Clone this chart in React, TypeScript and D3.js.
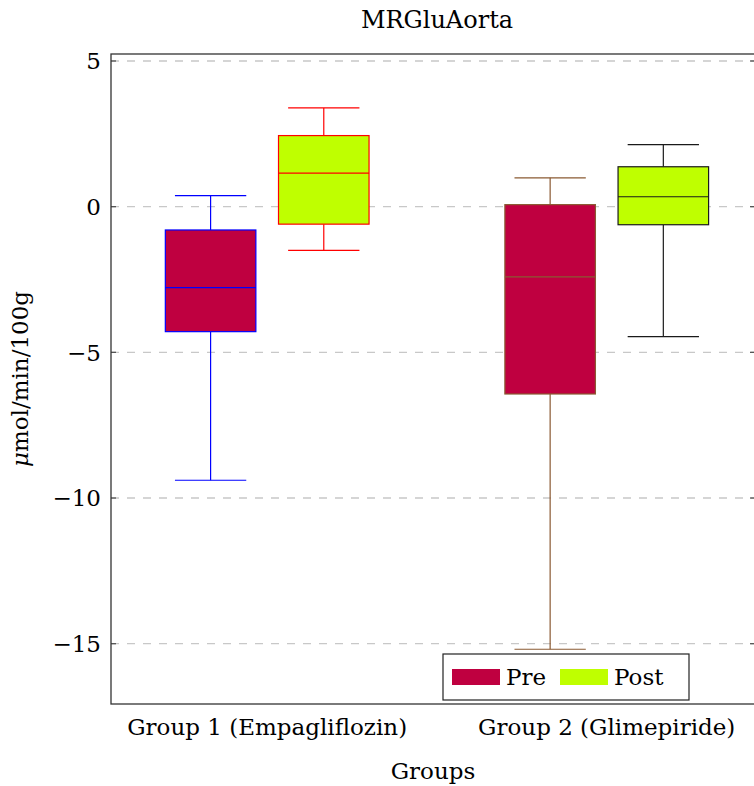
import React from "react";
import * as d3 from "d3";

// box plot summary per box: G1 Pre, G1 Post, G2 Pre, G2 Post
const groups = ["Group 1 (Empagliflozin)", "Group 2 (Glimepiride)"];
const groupPos = [1.5, 4.5];
const series = ["Pre", "Post"];
const boxPos = [1, 2, 4, 5];
const lowerWhisker = [-9.39, -1.5, -15.19, -4.46];
const lowerQuartile = [-4.29, -0.6, -6.43, -0.62];
const median = [-2.78, 1.15, -2.41, 0.34];
const upperQuartile = [-0.8, 2.44, 0.07, 1.37];
const upperWhisker = [0.38, 3.39, 0.99, 2.13];
const yTicks = [5, 0, -5, -10, -15];

const fills = ["#bf0040", "#bfff00"];
const edges = ["#0000ff", "#ff0000", "#8a5a32", "#1a1a1a"];

const W = 754, H = 786;
const margin = { top: 54, right: -1, bottom: 82, left: 111 };
const font = "'DejaVu Serif', serif";
const fs = 23;

const App = () => {
  const x = d3.scaleLinear().domain([0.12, 5.81]).range([margin.left, W - margin.right]);
  const y = d3.scaleLinear().domain([-17.07, 5.24]).range([H - margin.bottom, margin.top]);
  const unit = x(1) - x(0);
  const boxW = 0.8 * unit, capW = 0.63 * unit;
  const fmt = (v: number) => (v < 0 ? "\u2212" + Math.abs(v) : String(v));
  const x0 = margin.left, x1 = W - margin.right, y0 = margin.top, y1 = H - margin.bottom;

  return (
    <svg width={W} height={H} style={{ position: "absolute", left: 0, top: 0, background: "#fff" }}>
      {/* grid */}
      {yTicks.map(t => (
        <line key={"g" + t} x1={x0} x2={x1} y1={y(t)} y2={y(t)} stroke="#c8c8c8" strokeWidth={1.3} strokeDasharray="8,8" />
      ))}
      {/* ticks */}
      {yTicks.map(t => (
        <g key={"t" + t}>
          <line x1={x0} x2={x0 + 5} y1={y(t)} y2={y(t)} stroke="#555" strokeWidth={1.3} />
          <line x1={x1 - 5} x2={x1} y1={y(t)} y2={y(t)} stroke="#555" strokeWidth={1.3} />
          <text x={x0 - 10} y={y(t)} dy="0.36em" textAnchor="end" fontFamily={font} fontSize={fs}>{fmt(t)}</text>
        </g>
      ))}
      {/* boxes */}
      {boxPos.map((p, i) => {
        const cx = x(p);
        const c = edges[i];
        return (
          <g key={"b" + i}>
            <line x1={cx} x2={cx} y1={y(upperWhisker[i])} y2={y(upperQuartile[i])} stroke={c} strokeWidth={1.2} />
            <line x1={cx} x2={cx} y1={y(lowerQuartile[i])} y2={y(lowerWhisker[i])} stroke={c} strokeWidth={1.2} />
            <line x1={cx - capW / 2} x2={cx + capW / 2} y1={y(upperWhisker[i])} y2={y(upperWhisker[i])} stroke={c} strokeWidth={1.2} />
            <line x1={cx - capW / 2} x2={cx + capW / 2} y1={y(lowerWhisker[i])} y2={y(lowerWhisker[i])} stroke={c} strokeWidth={1.2} />
            <rect x={cx - boxW / 2} y={y(upperQuartile[i])} width={boxW} height={y(lowerQuartile[i]) - y(upperQuartile[i])}
              fill={fills[i % 2]} stroke={c} strokeWidth={1.2} />
            <line x1={cx - boxW / 2} x2={cx + boxW / 2} y1={y(median[i])} y2={y(median[i])} stroke={c} strokeWidth={1.2} />
          </g>
        );
      })}
      {/* frame */}
      <rect x={x0} y={y0} width={x1 - x0} height={y1 - y0} fill="none" stroke="#333" strokeWidth={1.3} />
      {/* x labels */}
      {groups.map((g, i) => (
        <text key={g} x={x(groupPos[i])} y={y1 + 31} textAnchor="middle" fontFamily={font} fontSize={fs}>{g}</text>
      ))}
      <text x={(x0 + x1) / 2} y={y1 + 75} textAnchor="middle" fontFamily={font} fontSize={fs}>Groups</text>
      <text x={(x0 + x1) / 2 + 4} y={28} textAnchor="middle" fontFamily={font} fontSize={fs + 1}>MRGluAorta</text>
      <text transform={`translate(28,${(y0 + y1) / 2}) rotate(-90)`} textAnchor="middle" fontFamily={font} fontSize={fs}>
        <tspan fontStyle="italic">μ</tspan>mol/min/100g
      </text>
      {/* legend */}
      <g transform="translate(443,654)">
        <rect x={0} y={0} width={246} height={46} fill="#fff" stroke="#222" strokeWidth={1.2} />
        {series.map((s, i) => (
          <g key={s} transform={`translate(${9 + i * 108},0)`}>
            <rect x={0} y={15} width={48} height={16} fill={fills[i]} />
            <text x={54} y={31} fontFamily={font} fontSize={fs}>{s}</text>
          </g>
        ))}
      </g>
    </svg>
  );
};

export default App;
